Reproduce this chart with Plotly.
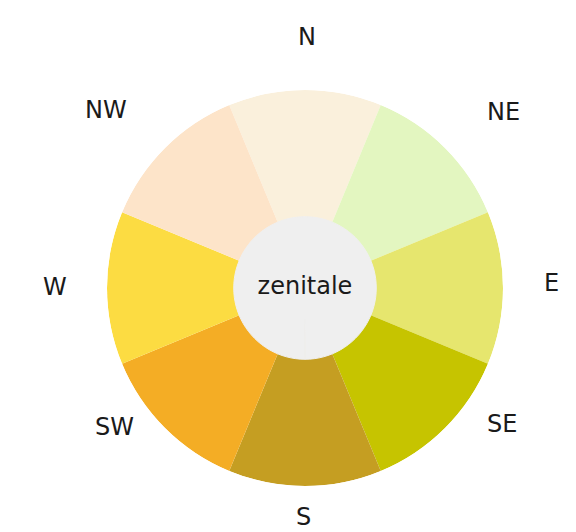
import plotly.graph_objects as go

# ---- data ----
DIRECTIONS = ["N", "NE", "E", "SE", "S", "SW", "W", "NW"]
ANGLES = [0, 45, 90, 135, 180, 225, 270, 315]
VALUES = [1, 1, 1, 1, 1, 1, 1, 1]
COLORS = ["#FAF0DC", "#E3F6C0", "#E6E66E", "#C6C400", "#C59E22", "#F4AD25", "#FCDC42", "#FDE4C9"]
ZENITH_LABEL = "zenitale"
ZENITH_VALUE = 0.36

# ---- layout constants ----
W, H = 576, 532
CX, CY, R = 297, 280, 198  # chart centre / radius inside the figure (page adds 8px body margin)
FONT = "DejaVu Sans"
# label centres (pixel offsets from chart centre)
LABEL_OFFSETS = {
    "N": (2, -251), "NE": (198, -176), "E": (246, -5), "SE": (197, 136),
    "S": (-2, 229), "SW": (-191, 139), "W": (-250, -1), "NW": (-199, -178),
}

fig = go.Figure()
fig.add_trace(go.Barpolar(
    r=VALUES, theta=ANGLES, width=[45] * len(ANGLES),
    marker=dict(color=COLORS, line=dict(width=0)),
    hoverinfo="skip", showlegend=False,
))
# zenith disc: one (almost) full-circle bar covering the centre
fig.add_trace(go.Barpolar(
    r=[ZENITH_VALUE], theta=[0], width=[359.9],
    marker=dict(color="#EFEFEF", line=dict(width=1, color="#EFEFEF")),
    hoverinfo="skip", showlegend=False,
))
fig.add_trace(go.Scatterpolar(
    r=[0], theta=[0], mode="text", text=[ZENITH_LABEL],
    textfont=dict(family=FONT, size=24, color="#1a1a1a"),
    textposition="middle center", hoverinfo="skip", showlegend=False,
))

annotations = []
for d in DIRECTIONS:
    dx, dy = LABEL_OFFSETS[d]
    annotations.append(dict(
        x=(CX + dx) / W, y=1 - (CY + dy) / H, xref="paper", yref="paper",
        text=d, showarrow=False, xanchor="center", yanchor="middle",
        font=dict(family=FONT, size=24, color="#1a1a1a"),
    ))

fig.update_layout(
    width=W, height=H,
    margin=dict(l=0, r=0, t=0, b=0),
    paper_bgcolor="white",
    polar=dict(
        domain=dict(x=[(CX - R) / W, (CX + R) / W], y=[1 - (CY + R) / H, 1 - (CY - R) / H]),
        bgcolor="rgba(0,0,0,0)",
        barmode="overlay",
        bargap=0,
        radialaxis=dict(range=[0, 1], visible=False),
        angularaxis=dict(rotation=90, direction="clockwise", visible=False,
                         tickvals=ANGLES, ticktext=DIRECTIONS),
    ),
    annotations=annotations,
)

fig.write_html("out.html")
